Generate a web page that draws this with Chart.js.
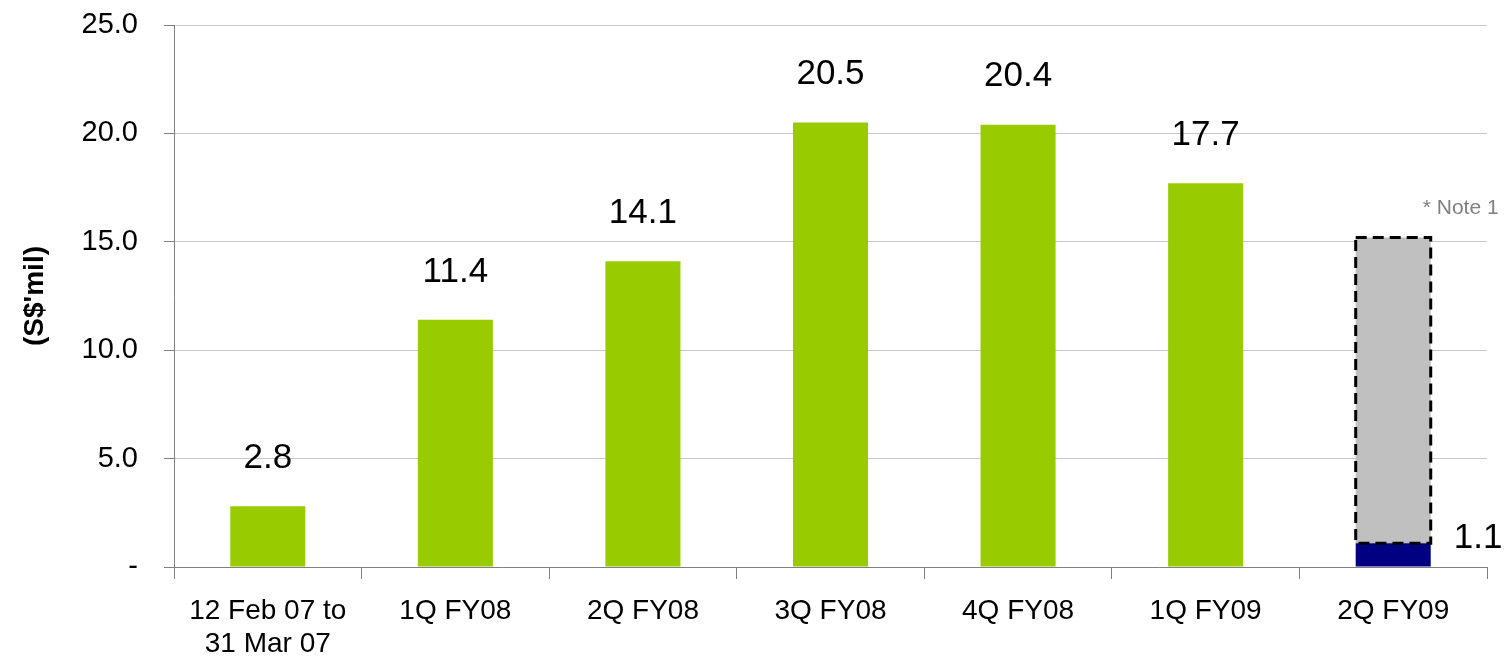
<!DOCTYPE html>
<html>
<head>
<meta charset="utf-8">
<script src="https://cdn.jsdelivr.net/npm/chart.js@4/dist/chart.umd.min.js"></script>
<style>
  html, body { margin: 0; padding: 0; background: #fff; }
  #wrap { width: 1509px; height: 666px; position: relative; }
</style>
</head>
<body>
<div id="wrap"><canvas id="chart"></canvas></div>
<script>
const periods = [['12 Feb 07 to', '31 Mar 07'], '1Q FY08', '2Q FY08', '3Q FY08', '4Q FY08', '1Q FY09', '2Q FY09'];
const reported = [2.8, 11.4, 14.1, 20.5, 20.4, 17.7, null];
const actual2Q = [null, null, null, null, null, null, 1.1];
const note1 = [null, null, null, null, null, null, 14.1];
const yTickLabels = ['-', '5.0', '10.0', '15.0', '20.0', '25.0'];

const FONT = "'Liberation Sans', Arial, sans-serif";

const overlay = {
    id: 'overlay',
    afterDatasetsDraw(chart) {
        const ctx = chart.ctx;
        ctx.save();
        // value labels over the green bars
        ctx.font = '35px ' + FONT;
        ctx.fillStyle = '#000';
        ctx.textAlign = 'center';
        ctx.textBaseline = 'middle';
        chart.getDatasetMeta(0).data.forEach((bar, i) => {
            if (reported[i] == null) return;
            ctx.fillText(reported[i].toFixed(1), bar.x, bar.y - 48);
        });
        // 1.1 label beside the blue bar
        chart.getDatasetMeta(1).data.forEach((bar, i) => {
            if (actual2Q[i] == null) return;
            ctx.textAlign = 'left';
            ctx.fillText(actual2Q[i].toFixed(1), bar.x + bar.width / 2 + 23, bar.y - 5);
        });
        // dashed outline and note on the grey bar
        chart.getDatasetMeta(2).data.forEach((bar, i) => {
            if (note1[i] == null) return;
            const l = bar.x - bar.width / 2, r = bar.x + bar.width / 2;
            ctx.strokeStyle = '#000';
            ctx.lineWidth = 3;
            ctx.setLineDash([11, 6]);
            ctx.strokeRect(l, bar.y, r - l, bar.base - bar.y);
            ctx.setLineDash([]);
            ctx.font = '21px ' + FONT;
            ctx.fillStyle = '#808080';
            ctx.textAlign = 'left';
            ctx.fillText('* Note 1', r - 8, bar.y - 29);
        });
        ctx.restore();
    }
};

new Chart(document.getElementById('chart'), {
    type: 'bar',
    data: {
        labels: periods,
        datasets: [
            { data: reported, backgroundColor: '#99CC00' },
            { data: actual2Q, backgroundColor: '#000080' },
            { data: note1, backgroundColor: '#C0C0C0' }
        ]
    },
    options: {
        responsive: true,
        maintainAspectRatio: false,
        animation: false,
        layout: { padding: { top: 25, right: 22, left: 0, bottom: 0 } },
        datasets: { bar: { categoryPercentage: 1.0, barPercentage: 0.4 } },
        scales: {
            x: {
                stacked: true,
                grid: { offset: true, drawOnChartArea: false, tickLength: 12, color: '#808080' },
                border: { color: '#808080', width: 1 },
                ticks: { color: '#000', font: { family: FONT, size: 28, lineHeight: 1.18 }, padding: 16, maxRotation: 0 },
                afterFit(scale) { scale.height = 99; }
            },
            y: {
                stacked: true,
                min: 0,
                max: 25,
                grid: { color: '#C8C8C8', tickColor: '#808080', tickLength: 10 },
                border: { color: '#808080', width: 1 },
                ticks: {
                    stepSize: 5,
                    color: '#000',
                    padding: 26,
                    font: { family: FONT, size: 29 },
                    callback: (v, i) => yTickLabels[i]
                },
                title: {
                    display: true,
                    text: "(S$'mil)",
                    color: '#000',
                    font: { family: FONT, size: 28, weight: 'bold' },
                    padding: { top: 18, bottom: 0 }
                },
                afterFit(scale) {
                    scale.width = 174;
                    scale.paddingTop = 0;
                    scale.paddingBottom = 0;
                }
            }
        },
        plugins: {
            legend: { display: false },
            tooltip: { enabled: false }
        }
    },
    plugins: [overlay]
});
</script>
</body>
</html>
